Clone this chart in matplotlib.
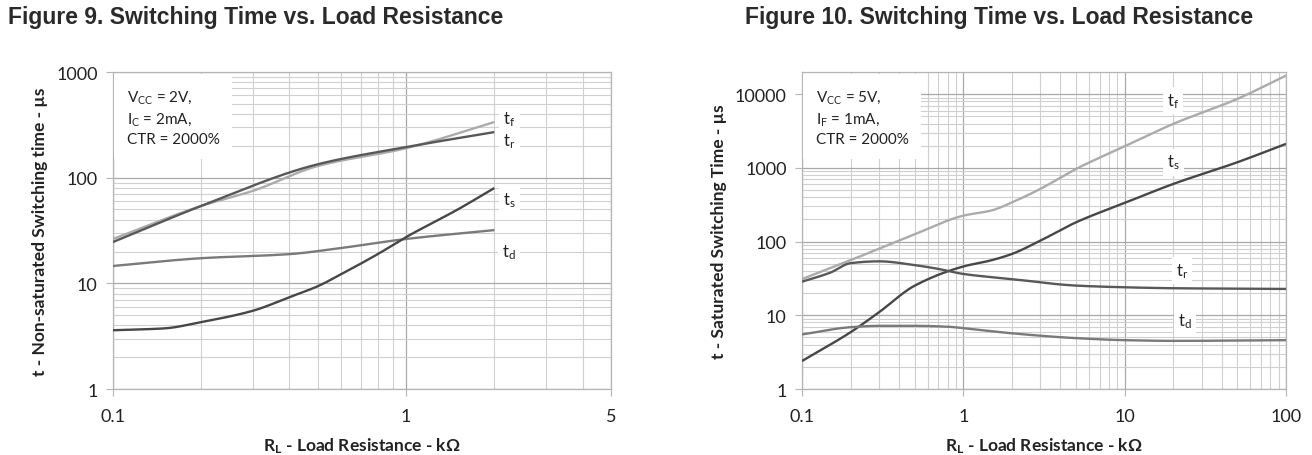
import numpy as np
import matplotlib
matplotlib.use("Agg")
import matplotlib.pyplot as plt
from matplotlib.ticker import LogLocator, NullFormatter

plt.rcParams['font.family'] = ['Lato', 'Open Sans', 'DejaVu Sans']
plt.rcParams['mathtext.fontset'] = 'custom'
plt.rcParams['mathtext.rm'] = 'Lato'
plt.rcParams['mathtext.it'] = 'Lato:italic'
plt.rcParams['mathtext.bf'] = 'Lato:bold'

# ---- Figure 9 data (non-saturated), RL in kOhm, t in us
rl9_f = [0.1, 0.2, 0.3, 0.5, 1.0, 2.0]
tf9 = [26.3, 54, 75, 129, 190, 336]
rl9_r = [0.1, 0.2, 0.5, 1.0, 2.0]
tr9 = [24.6, 54, 134, 195, 270]
rl9_d = [0.1, 0.2, 0.4, 0.6, 1.0, 2.0]
td9 = [14.6, 17.3, 18.9, 21.6, 26.3, 31.9]
rl9_s = [0.1, 0.15, 0.2, 0.3, 0.4, 0.5, 0.6, 0.8, 1.0, 1.5, 2.0]
ts9 = [3.6, 3.75, 4.3, 5.5, 7.4, 9.4, 12.2, 18.9, 27.4, 50, 79.8]

# ---- Figure 10 data (saturated)
rl10_f = [0.1, 0.2, 0.3, 0.5, 1.0, 1.5, 2.0, 3.0, 5.0, 10, 20, 50, 100]
tf10 = [31, 56, 80, 126, 225, 265, 340, 519, 969, 1968, 3955, 8650, 17900]
rl10_s = [0.1, 0.2, 0.3, 0.5, 1.0, 1.5, 2.0, 3.0, 5.0, 10, 20, 50, 100]
ts10 = [2.4, 5.9, 11, 25.3, 46, 56, 68, 103, 183, 335, 606, 1194, 2118]
rl10_r = [0.1, 0.15, 0.2, 0.3, 0.5, 0.7, 1.0, 2.0, 5.0, 10, 20, 100]
tr10 = [28.6, 38, 51, 54, 48, 42.6, 36.4, 31, 25.3, 24, 23.3, 22.8]
rl10_d = [0.1, 0.2, 0.3, 0.5, 0.8, 1.0, 2.0, 5.0, 10, 20, 100]
td10 = [5.5, 6.9, 7.2, 7.2, 7.0, 6.7, 5.7, 4.9, 4.6, 4.5, 4.6]

c_light = '#ababab'
c_dark = '#474747'
c_mid = '#7a7a7a'
c_rise = '#585858'


def smooth(x, y, n=200):
    # cubic hermite through the read points, in log-log space
    lx, ly = np.log10(x), np.log10(y)
    d = np.diff(ly) / np.diff(lx)
    m = np.zeros_like(lx)
    m[0], m[-1] = d[0], d[-1]
    for i in range(1, len(lx) - 1):
        if d[i - 1] * d[i] <= 0:
            m[i] = 0
        else:
            w1 = 2 * (lx[i + 1] - lx[i]) + (lx[i] - lx[i - 1])
            w2 = (lx[i + 1] - lx[i]) + 2 * (lx[i] - lx[i - 1])
            m[i] = (w1 + w2) / (w1 / d[i - 1] + w2 / d[i])
    xs = np.linspace(lx[0], lx[-1], n)
    ys = np.empty_like(xs)
    for j, xv in enumerate(xs):
        k = min(np.searchsorted(lx, xv, side='right') - 1, len(lx) - 2)
        h = lx[k + 1] - lx[k]
        t = (xv - lx[k]) / h
        h00 = 2 * t**3 - 3 * t**2 + 1
        h10 = t**3 - 2 * t**2 + t
        h01 = -2 * t**3 + 3 * t**2
        h11 = t**3 - t**2
        ys[j] = h00 * ly[k] + h10 * h * m[k] + h01 * ly[k + 1] + h11 * h * m[k + 1]
    return 10**xs, 10**ys


def style_axes(ax, xlim, ylim, xticks, yticks):
    ax.set_xscale('log')
    ax.set_yscale('log')
    ax.set_xlim(*xlim)
    ax.set_ylim(*ylim)
    ax.xaxis.set_minor_locator(LogLocator(subs=np.arange(2, 10)))
    ax.yaxis.set_minor_locator(LogLocator(subs=np.arange(2, 10)))
    ax.xaxis.set_minor_formatter(NullFormatter())
    ax.yaxis.set_minor_formatter(NullFormatter())
    ax.set_xticks(xticks, [('%g' % v) for v in xticks])
    ax.set_yticks(yticks, [('%g' % v) for v in yticks])
    ax.grid(which='minor', color='#d0d0d0', lw=0.8)
    ax.grid(which='major', color='#a8a8a8', lw=0.9)
    for s in ax.spines.values():
        s.set_color('#b5b5b5')
        s.set_linewidth(0.9)
    ax.tick_params(which='major', length=5, color='#b5b5b5', labelsize=13,
                   labelcolor='#222222')
    ax.tick_params(axis='x', which='major', pad=9)
    ax.tick_params(axis='y', which='major', pad=6)
    ax.tick_params(which='minor', length=0)
    ax.set_axisbelow(True)


def label(ax, x, y, s):
    ax.text(x, y, s, fontsize=12, ha='center', va='center', color='#222222',
            zorder=3, bbox=dict(fc='white', ec='none', pad=3))


fig = plt.figure(figsize=(13.12, 4.56), dpi=100)

# Figure 9
ax1 = fig.add_axes([0.0861, 0.1447, 0.3796, 0.6952])
style_axes(ax1, (0.1, 5), (1, 1000), [0.1, 1, 5], [1, 10, 100, 1000])
for x, y, c in [(rl9_f, tf9, c_light), (rl9_r, tr9, c_rise),
                (rl9_d, td9, c_mid), (rl9_s, ts9, c_dark)]:
    xs, ys = smooth(np.array(x), np.array(y))
    ax1.plot(xs, ys, color=c, lw=1.7, zorder=4, solid_capstyle='butt')
label(ax1, 2.25, 360, 't$_\\mathregular{f}$')
label(ax1, 2.25, 222, 't$_\\mathregular{r}$')
label(ax1, 2.25, 62, 't$_\\mathregular{s}$')
label(ax1, 2.25, 20, 't$_\\mathregular{d}$')
ax1.text(0.028, 0.95, 'V$_\\mathregular{CC}$ = 2V,\nI$_\\mathregular{C}$ = 2mA,\nCTR = 2000%',
         transform=ax1.transAxes, fontsize=11, va='top', ha='left', linespacing=1.45,
         color='#222222', zorder=3,
         bbox=dict(fc='white', ec='none', pad=9))
ax1.set_xlabel('R$_\\mathregular{L}$ - Load Resistance - k\u03a9', fontsize=12.5,
               fontweight='bold', color='#222222', labelpad=8)
ax1.set_ylabel('t - Non-saturated Switching time - \u00b5s', fontsize=12.5,
               fontweight='bold', color='#222222', labelpad=6)

# Figure 10
ax2 = fig.add_axes([0.6113, 0.1447, 0.3689, 0.6952])
style_axes(ax2, (0.1, 100), (1, 20000), [0.1, 1, 10, 100], [1, 10, 100, 1000, 10000])
for x, y, c in [(rl10_f, tf10, c_light), (rl10_s, ts10, c_dark),
                (rl10_r, tr10, c_rise), (rl10_d, td10, c_mid)]:
    xs, ys = smooth(np.array(x), np.array(y))
    ax2.plot(xs, ys, color=c, lw=1.7, zorder=4, solid_capstyle='butt')
label(ax2, 20, 8100, 't$_\\mathregular{f}$')
label(ax2, 20, 1200, 't$_\\mathregular{s}$')
label(ax2, 22.7, 40, 't$_\\mathregular{r}$')
label(ax2, 23.7, 8.4, 't$_\\mathregular{d}$')
ax2.text(0.028, 0.95, 'V$_\\mathregular{CC}$ = 5V,\nI$_\\mathregular{F}$ = 1mA,\nCTR = 2000%',
         transform=ax2.transAxes, fontsize=11, va='top', ha='left', linespacing=1.45,
         color='#222222', zorder=3,
         bbox=dict(fc='white', ec='none', pad=9))
ax2.set_xlabel('R$_\\mathregular{L}$ - Load Resistance - k\u03a9', fontsize=12.5,
               fontweight='bold', color='#222222', labelpad=8)
ax2.set_ylabel('t - Saturated Switching Time - \u00b5s', fontsize=12.5,
               fontweight='bold', color='#222222', labelpad=6)

tfont = ['Liberation Sans', 'DejaVu Sans']
fig.text(0.006, 0.962, 'Figure 9. Switching Time vs. Load Resistance', family=tfont,
         fontsize=16.5, fontweight='bold', color='#2a2a2a', va='center', ha='left')
fig.text(0.5678, 0.962, 'Figure 10. Switching Time vs. Load Resistance', family=tfont,
         fontsize=16.5, fontweight='bold', color='#2a2a2a', va='center', ha='left')

fig.savefig('out.png', dpi=100)
